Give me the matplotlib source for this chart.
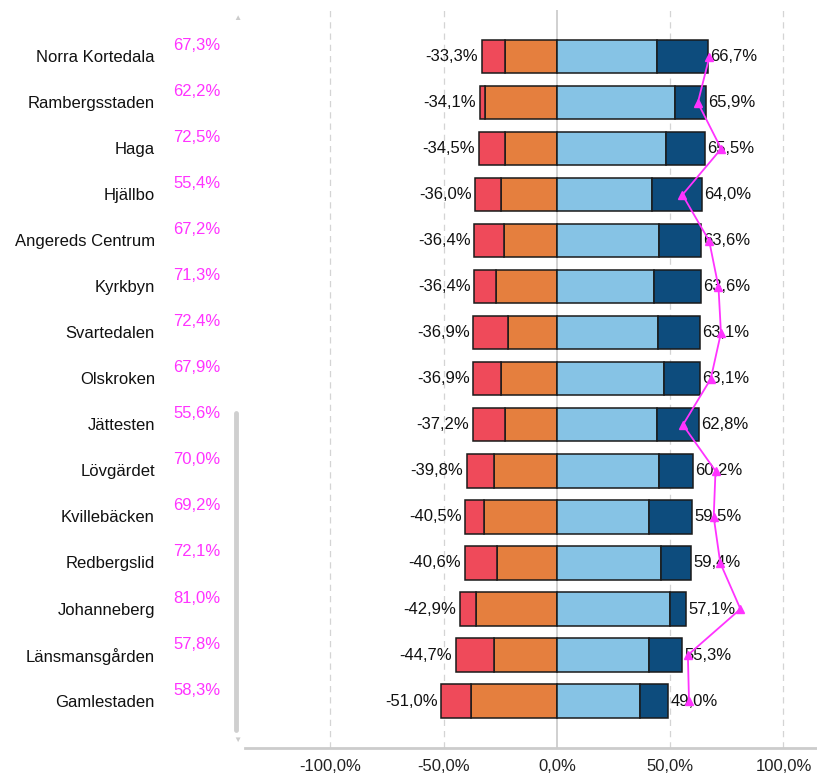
import matplotlib
matplotlib.use("Agg")
import matplotlib.pyplot as plt
import numpy as np

plt.rcParams['font.family'] = ['Liberation Sans', 'DejaVu Sans']

categories = ["Norra Kortedala", "Rambergsstaden", "Haga", "Hjällbo", "Angereds Centrum",
              "Kyrkbyn", "Svartedalen", "Olskroken", "Jättesten", "Lövgärdet",
              "Kvillebäcken", "Redbergslid", "Johanneberg", "Länsmansgården", "Gamlestaden"]
neg_total = [33.3, 34.1, 34.5, 36.0, 36.4, 36.4, 36.9, 36.9, 37.2, 39.8, 40.5, 40.6, 42.9, 44.7, 51.0]
pos_total = [66.7, 65.9, 65.5, 64.0, 63.6, 63.6, 63.1, 63.1, 62.8, 60.2, 59.5, 59.4, 57.1, 55.3, 49.0]
orange_vals = [22.8, 31.6, 22.8, 24.9, 23.4, 27.0, 21.6, 24.9, 22.8, 27.7, 32.1, 26.4, 35.9, 27.7, 37.8]
lightblue_vals = [44.0, 52.0, 48.0, 41.8, 45.2, 42.8, 44.4, 47.3, 44.0, 45.2, 40.6, 45.8, 49.9, 40.6, 36.6]
line_vals = [67.3, 62.2, 72.5, 55.4, 67.2, 71.3, 72.4, 67.9, 55.6, 70.0, 69.2, 72.1, 81.0, 57.8, 58.3]
xticks = [-100, -50, 0, 50, 100]

red_vals = [t - o for t, o in zip(neg_total, orange_vals)]
darkblue_vals = [t - l for t, l in zip(pos_total, lightblue_vals)]

C_RED = "#EF4A5A"
C_ORANGE = "#E57F3E"
C_LBLUE = "#86C3E5"
C_DBLUE = "#0D4C7D"
C_MAG = "#FF33FF"
FS = 12

fig = plt.figure(figsize=(8.17, 7.76), dpi=100)
ax = fig.add_axes([245/817, 28/776, 1 - 245/817, (748 - 10)/776])

y = np.arange(len(categories))
h = 0.72
ec = "#1a1a1a"
lw = 1.1
ax.barh(y, [-o for o in orange_vals], height=h, color=C_ORANGE, edgecolor=ec, linewidth=lw, zorder=3)
ax.barh(y, [-r for r in red_vals], left=[-o for o in orange_vals], height=h, color=C_RED,
        edgecolor=ec, linewidth=lw, zorder=3)
ax.barh(y, lightblue_vals, height=h, color=C_LBLUE, edgecolor=ec, linewidth=lw, zorder=3)
ax.barh(y, darkblue_vals, left=lightblue_vals, height=h, color=C_DBLUE, edgecolor=ec,
        linewidth=lw, zorder=3)

def fmt(v):
    return (f"{v:.1f}%").replace(".", ",")

for i in range(len(categories)):
    ax.text(-neg_total[i] - 1.6, y[i], fmt(-neg_total[i]), ha="right", va="center",
            fontsize=FS, color="#111111", zorder=5)
    ax.text(pos_total[i] + 1.0, y[i], fmt(pos_total[i]), ha="left", va="center",
            fontsize=FS, color="#111111", zorder=5)

ax.plot(line_vals, y, color=C_MAG, linewidth=1.3, marker="^", markersize=5.5,
        markerfacecolor=C_MAG, markeredgecolor=C_MAG, zorder=6)

ax.set_xlim(-137.7, 114.8)
ax.set_ylim(15.02, -1.015)

for xv in xticks:
    if xv == 0:
        ax.axvline(xv, color="#c8c8c8", linewidth=1.2, zorder=1)
    else:
        ax.axvline(xv, color="#d4d4d4", linewidth=0.9, linestyle=(0, (5, 4)), zorder=1)

ax.set_xticks(xticks)
ax.set_xticklabels([fmt(v) for v in xticks], fontsize=FS, color="#222222")
ax.tick_params(axis="x", length=0, pad=8)
ax.set_yticks([])
for s in ["top", "right", "left"]:
    ax.spines[s].set_visible(False)
ax.spines["bottom"].set_color("#cccccc")
ax.spines["bottom"].set_linewidth(2)

# Category labels and magenta percentages in figure coordinates
for i, cat in enumerate(categories):
    yd = ax.transData.transform((0, y[i]))[1]
    yf = yd / fig.bbox.height
    fig.text(155/817, yf - 1/776, cat, ha="right", va="center", fontsize=FS, color="#111111")
    fig.text(173/817, yf + 11/776, fmt(line_vals[i]), ha="left", va="center",
             fontsize=FS, color=C_MAG)

# scrollbar decoration
fig.add_artist(plt.Line2D([236/817, 236/817], [1 - 413/776, 1 - 730/776], color="#cfcfcf",
                          linewidth=3.5, solid_capstyle="round"))
fig.text(237/817, 1 - 18/776, "▲", ha="center", va="center", fontsize=6, color="#cccccc")
fig.text(237/817, 1 - 740/776, "▼", ha="center", va="center", fontsize=6, color="#cccccc")

fig.savefig("out.png", dpi=100)
